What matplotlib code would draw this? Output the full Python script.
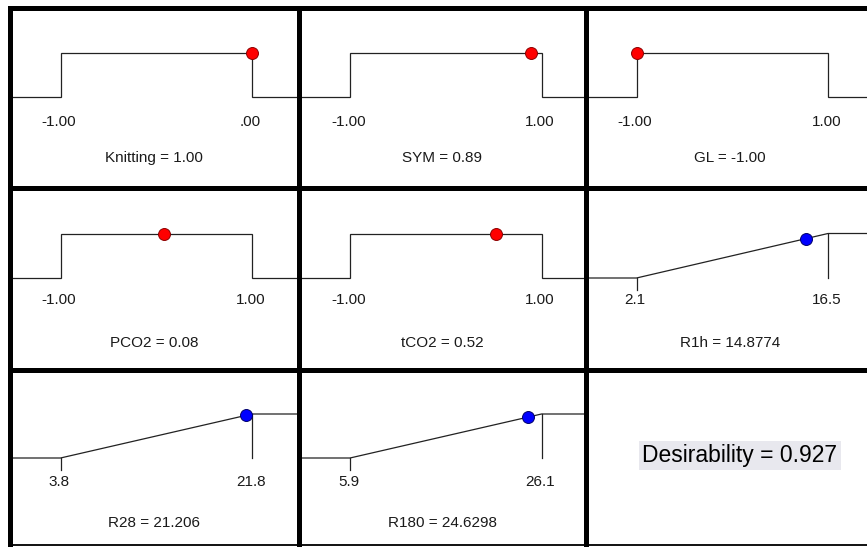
import matplotlib
matplotlib.use("Agg")
import matplotlib.pyplot as plt
from matplotlib.lines import Line2D

# ---------------- data ----------------
names = ["Knitting", "SYM", "GL", "PCO2", "tCO2", "R1h", "R28", "R180"]
values = [1.00, 0.89, -1.00, 0.08, 0.52, 14.8774, 21.206, 24.6298]
value_text = ["1.00", "0.89", "-1.00", "0.08", "0.52", "14.8774", "21.206", "24.6298"]
lows = [-1.0, -1.0, -1.0, -1.0, -1.0, 2.1, 3.8, 5.9]
highs = [1.0, 1.0, 1.0, 1.0, 1.0, 16.5, 21.8, 26.1]
low_labels = ["-1.00", "-1.00", "-1.00", "-1.00", "-1.00", "2.1", "3.8", "5.9"]
high_labels = [".00", "1.00", "1.00", "1.00", "1.00", "16.5", "21.8", "26.1"]
kinds = ["range", "range", "range", "range", "range", "max", "max", "max"]
dot_colors = ["red", "red", "red", "red", "red", "blue", "blue", "blue"]
desirability = 0.927

# ---------------- layout (pixels) ----------------
W, H = 867, 547
DPI = 100
col_edges = [9.5, 299, 585.5, 875]
row_edges = [8, 187.5, 369.5, 545]
row_base = [97, 278, 458]     # baseline y (px)
row_top = [53, 233.5, 414]    # top level y (px)
row_lab = [122, 300.5, 481.5]
row_title = [158, 343, 523]
low_off, high_off = 51, 242.5

plt.rcParams['font.family'] = ['Liberation Sans', 'DejaVu Sans']
fig = plt.figure(figsize=(W / DPI, H / DPI), dpi=DPI)
fig.patch.set_facecolor("white")

line_col = "#222222"
text_col = "#1a1a1a"
edge_cols = {"red": "#8b0000", "blue": "#00006a"}

for i, name in enumerate(names):
    r, c = divmod(i, 3)
    xe, xe2 = col_edges[c], col_edges[c + 1]
    ye, ye2 = row_edges[r], row_edges[r + 1]
    ax = fig.add_axes([xe / W, 1 - ye2 / H, (xe2 - xe) / W, (ye2 - ye) / H])
    ax.set_axis_off()
    lo, hi = lows[i], highs[i]
    sx = (hi - lo) / (high_off - low_off)
    xmin = lo - low_off * sx
    xmax = xmin + (xe2 - xe) * sx
    yb, yt = row_base[r], row_top[r]
    sy = 1.0 / (yb - yt)
    ax.set_xlim(xmin, xmax)
    ax.set_ylim(-(ye2 - yb) * sy, 1 + (yt - ye) * sy)

    if kinds[i] == "range":
        xs = [xmin, lo, lo, hi, hi, xmax]
        ys = [0, 0, 1, 1, 0, 0]
        ax.plot(xs, ys, color=line_col, lw=0.9, solid_joinstyle="miter")
        dy = 1.0
    else:
        xs = [xmin, lo, hi, xmax]
        ys = [0, 0, 1, 1]
        ax.plot(xs, ys, color=line_col, lw=0.9)
        ax.plot([hi, hi], [1, 0], color=line_col, lw=0.9)
        ax.plot([lo, lo], [0, -12 * sy], color=line_col, lw=0.9)
        dy = (values[i] - lo) / (hi - lo)
    ax.plot([values[i]], [dy], marker="o", ms=8.6, color=dot_colors[i],
            mec=edge_cols[dot_colors[i]], mew=0.7, zorder=5)

    off_lab = -(row_lab[r] - yb) * 0.72
    ax.annotate(low_labels[i], xy=(lo, 0), xytext=(-1, off_lab), textcoords="offset points",
                ha="center", va="center", fontsize=11, color=text_col)
    ax.annotate(high_labels[i], xy=(hi, 0), xytext=(-1, off_lab), textcoords="offset points",
                ha="center", va="center", fontsize=11, color=text_col)
    off_t = -(row_title[r] - yb) * 0.72
    ax.annotate(f"{name} = {value_text[i]}", xy=(0.5, 0), xycoords=("axes fraction", "data"),
                xytext=(0, off_t), textcoords="offset points",
                ha="center", va="center", fontsize=11, color=text_col)

# desirability cell
fig.text(740 / W, 1 - 455.5 / H, f"Desirability = {desirability:.3f}", fontsize=16.5,
         ha="center", va="center", color="black",
         bbox=dict(boxstyle="square,pad=0.15", fc="#e8e8ee", ec="none"))

# grid lines in pixel coords
ov = fig.add_axes([0, 0, 1, 1], zorder=10)
ov.set_xlim(0, W)
ov.set_ylim(H, 0)
ov.set_axis_off()
ov.patch.set_alpha(0)
thick = 3.6
ov.add_line(Line2D([col_edges[0], W], [row_edges[0], row_edges[0]], lw=thick, color="black"))
for y in row_edges[1:3]:
    ov.add_line(Line2D([col_edges[0], W], [y, y], lw=thick, color="black"))
ov.add_line(Line2D([col_edges[0], W], [row_edges[3], row_edges[3]], lw=1.4, color="#111111"))
for x in col_edges[:3]:
    ov.add_line(Line2D([x, x], [row_edges[0] - 2.5, row_edges[3] + 1.5], lw=thick, color="black",
                       solid_capstyle="butt"))

fig.savefig("out.png", dpi=DPI)
